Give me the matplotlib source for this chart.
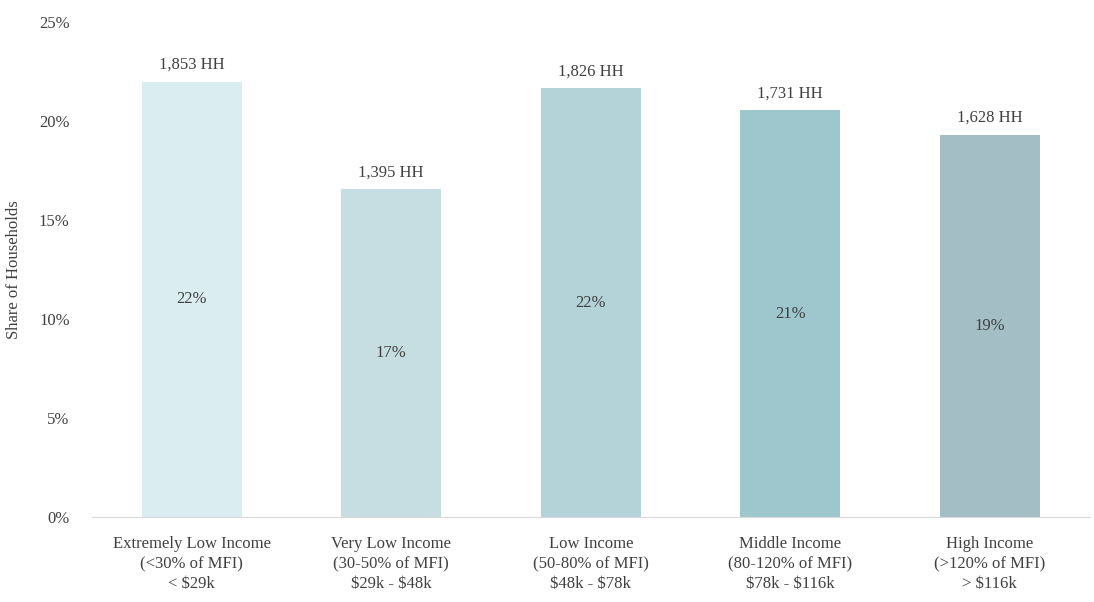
import matplotlib
matplotlib.use("Agg")
import matplotlib.pyplot as plt
from matplotlib.ticker import FuncFormatter

categories = [
    "Extremely Low Income\n(<30% of MFI)\n< \\$29k",
    "Very Low Income\n(30-50% of MFI)\n\\$29k - \\$48k",
    "Low Income\n(50-80% of MFI)\n\\$48k - \\$78k",
    "Middle Income\n(80-120% of MFI)\n\\$78k - \\$116k",
    "High Income\n(>120% of MFI)\n> \\$116k",
]
households = [1853, 1395, 1826, 1731, 1628]
shares = [21.97, 16.54, 21.65, 20.53, 19.31]
share_labels = ["22%", "17%", "22%", "21%", "19%"]
colors = ["#DAEDF0", "#C6DEE1", "#B3D3D8", "#9DC6CD", "#A3BFC5"]

plt.rcParams['font.family'] = ['Liberation Serif', 'DejaVu Serif']
text_color = "#404040"

fig = plt.figure(figsize=(10.94, 6.02), dpi=100)
ax = fig.add_axes([0.084, 0.1412, 0.912, 0.8223])

x = list(range(len(categories)))
bars = ax.bar(x, shares, width=0.5, color=colors)

for xi, s, hh, lab in zip(x, shares, households, share_labels):
    ax.text(xi, s + 0.45, f"{hh:,} HH", ha="center", va="bottom",
            fontsize=12, color=text_color)
    ax.text(xi, s / 2, lab, ha="center", va="center", fontsize=12, color=text_color)

ax.set_xlim(-0.5, 4.5)
ax.set_ylim(0, 25)
ax.set_yticks([0, 5, 10, 15, 20, 25])
ax.yaxis.set_major_formatter(FuncFormatter(lambda v, p: f"{int(v)}%"))
ax.set_xticks(x)
ax.set_xticklabels(categories, fontsize=12, color=text_color, linespacing=1.3)
ax.tick_params(axis="y", labelsize=12, labelcolor=text_color, length=0, pad=16)
ax.tick_params(axis="x", length=0, pad=14)
for sp in ["top", "right", "left"]:
    ax.spines[sp].set_visible(False)
ax.spines["bottom"].set_color("#D9D9D9")
ax.set_ylabel("Share of Households", fontsize=12, color=text_color, labelpad=12)

fig.savefig("out.png", dpi=100)
